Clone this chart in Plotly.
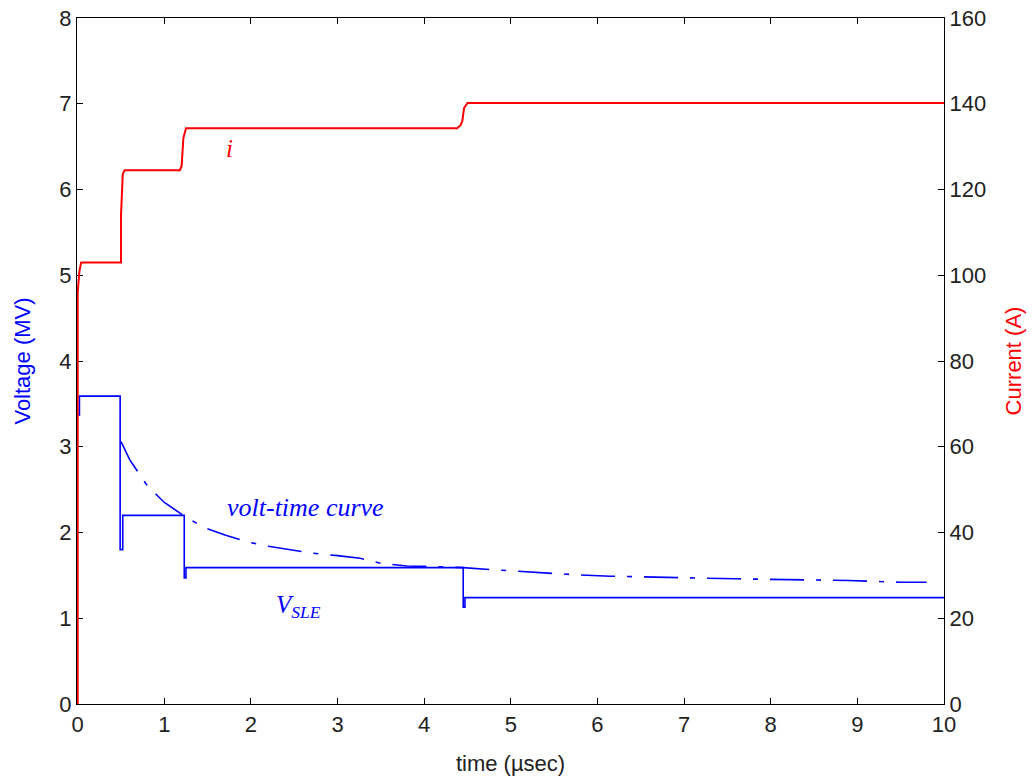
import plotly.graph_objects as go

# Current (A), right axis
t_i = [0, 0, 0.02, 0.04, 0.48, 0.5, 0.5, 0.52, 0.54, 0.56, 1.18, 1.2, 1.21, 1.22, 1.25, 4.38, 4.42, 4.44, 4.46, 4.5, 10]
i_A = [0, 96, 101, 103, 103, 103, 114, 123.5, 124.5, 124.5, 124.5, 125.5, 128, 132, 134.3, 134.3, 135, 136, 139, 140.2, 140.2]

# V_SLE (MV), left axis
t_v = [0, 0.02, 0.02, 0.49, 0.49, 0.52, 0.52, 1.23, 1.23, 1.25, 1.25, 4.45, 4.45, 4.47, 4.47, 10]
v_sle = [3.37, 3.37, 3.59, 3.59, 1.80, 1.80, 2.20, 2.20, 1.47, 1.47, 1.59, 1.59, 1.13, 1.13, 1.24, 1.24]

# volt-time curve (MV)
t_vt = [0.5, 0.6, 0.8, 1.0, 1.22, 1.45, 1.7, 1.96, 2.2, 2.46, 2.69, 3.0, 3.26, 3.5, 3.8, 4.2, 4.45, 4.88, 5.2, 5.7, 6.15, 6.95, 7.6, 8.2, 8.9, 9.5, 9.8]
v_vt = [3.06, 2.85, 2.55, 2.35, 2.20, 2.06, 1.97, 1.89, 1.84, 1.80, 1.76, 1.73, 1.70, 1.64, 1.61, 1.60, 1.59, 1.56, 1.54, 1.51, 1.49, 1.47, 1.46, 1.45, 1.44, 1.42, 1.42]

x_ticks = list(range(0, 11))
v_ticks = list(range(0, 9))
i_ticks = list(range(0, 161, 20))

FONT = "Liberation Sans Narrow, Liberation Sans, Arial, sans-serif"
SERIF = "Liberation Serif, Times New Roman, serif"

fig = go.Figure()
fig.add_trace(go.Scatter(x=t_vt, y=v_vt, mode="lines", line=dict(color="#0000ff", width=1.6, dash="34px,12px,5px,12px"), yaxis="y", showlegend=False))
fig.add_trace(go.Scatter(x=t_v, y=v_sle, mode="lines", line=dict(color="#0000ff", width=1.6), yaxis="y", showlegend=False))
fig.add_trace(go.Scatter(x=t_i, y=i_A, mode="lines", line=dict(color="#ff0000", width=2), yaxis="y2", showlegend=False))

axis_common = dict(showgrid=False, zeroline=False, ticks="inside", ticklen=6, tickwidth=1.2,
                   tickcolor="#000", linecolor="#000", linewidth=1.2, showline=True,
                   layer="below traces", automargin=False,
                   tickfont=dict(family=FONT, size=22, color="#222"))

fig.update_layout(
    width=1035, height=780,
    margin=dict(l=77, r=91, t=18, b=76),
    paper_bgcolor="white", plot_bgcolor="white",
    xaxis=dict(range=[-0.008, 10], tickvals=x_ticks, mirror="ticks",
               title=dict(text="time (\u00b5sec)", font=dict(family=FONT, size=22, color="#222"), standoff=20),
               **axis_common),
    yaxis=dict(range=[0, 8], tickvals=v_ticks, mirror=False,
               title=dict(text="Voltage (MV)", font=dict(family=FONT, size=22, color="#0000ff"), standoff=22),
               **axis_common),
    yaxis2=dict(range=[0, 160], tickvals=i_ticks, overlaying="y", side="right",
                title=dict(text="Current (A)", font=dict(family=FONT, size=22, color="#ff0000"), standoff=20),
                **axis_common),
    annotations=[
        dict(x=1.75, y=6.48, xref="x", yref="y", text="<i>i</i>", showarrow=False,
             font=dict(family=SERIF, size=25, color="#ff0000")),
        dict(x=2.63, y=2.29, xref="x", yref="y", text="<i>volt-time curve</i>", showarrow=False,
             font=dict(family=SERIF, size=26, color="#0000ff")),
        dict(x=2.55, y=1.14, xref="x", yref="y", text="<i>V<sub>SLE</sub></i>", showarrow=False,
             font=dict(family=SERIF, size=25, color="#0000ff")),
    ],
)

fig.write_html("out.html")
